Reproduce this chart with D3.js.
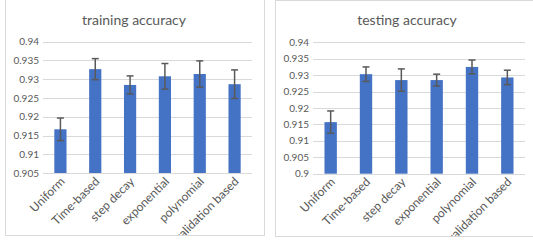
<!DOCTYPE html>
<html><head><meta charset="utf-8">
<script src="https://cdn.jsdelivr.net/npm/d3@7"></script>
<style>body{margin:0;background:#fff;} text{font-family:Lato,"Open Sans",sans-serif;}</style>
</head><body>
<svg id="c" width="533" height="244"></svg>
<script>
const categories = ["Uniform","Time-based","step decay","exponential","polynomial","validation based"];
const trainValues = [0.9167,0.9327,0.9285,0.9308,0.9314,0.9287];
const trainErrors = [0.0030,0.0028,0.0024,0.0034,0.0035,0.0038];
const testValues = [0.9157,0.9303,0.9285,0.9285,0.9325,0.9293];
const testErrors = [0.0034,0.0022,0.0034,0.0018,0.0021,0.0022];
const trainTicks = [0.905,0.91,0.915,0.92,0.925,0.93,0.935,0.94];
const testTicks = [0.9,0.905,0.91,0.915,0.92,0.925,0.93,0.935,0.94];

const svg = d3.select("#c");
const defs = svg.append("defs");

function panel(cfg){
  const g = svg.append("g");
  defs.append("clipPath").attr("id",cfg.id).append("rect")
    .attr("x",cfg.frame[0]).attr("y",cfg.frame[1]).attr("width",cfg.frame[2]).attr("height",cfg.frame[3]);
  g.append("rect").attr("x",cfg.frame[0]+0.5).attr("y",cfg.frame[1]+0.5)
    .attr("width",cfg.frame[2]).attr("height",cfg.frame[3])
    .attr("fill","#fff").attr("stroke","#d9d9d9");
  const inner = g.append("g").attr("clip-path",`url(#${cfg.id})`);
  const x = d3.scaleBand().domain(categories).range([cfg.x0,cfg.x1]).paddingInner(0.65).paddingOuter(0.325);
  const y = d3.scaleLinear().domain([cfg.ticks[0],cfg.ticks[cfg.ticks.length-1]]).range([cfg.yb,cfg.yt]);
  inner.selectAll("line.grid").data(cfg.ticks).join("line")
    .attr("x1",cfg.x0).attr("x2",cfg.x1)
    .attr("y1",d=>Math.round(y(d))+0.5).attr("y2",d=>Math.round(y(d))+0.5)
    .attr("stroke","#d9d9d9").attr("stroke-width",1);
  inner.selectAll("text.yl").data(cfg.ticks).join("text")
    .attr("x",cfg.x0-4).attr("y",d=>y(d)+3.5).attr("text-anchor","end")
    .attr("font-size",10).attr("fill","#595959").text(d=>d3.format("")(+d.toFixed(3)));
  inner.selectAll("rect.bar").data(cfg.values).join("rect")
    .attr("x",(d,i)=>x(categories[i])).attr("width",x.bandwidth())
    .attr("y",d=>y(d)).attr("height",d=>y(cfg.ticks[0])-y(d))
    .attr("fill","#4472c4");
  const eg = inner.selectAll("g.err").data(cfg.values).join("g");
  eg.append("line")
    .attr("x1",(d,i)=>x(categories[i])+x.bandwidth()/2).attr("x2",(d,i)=>x(categories[i])+x.bandwidth()/2)
    .attr("y1",(d,i)=>y(d+cfg.errors[i])).attr("y2",(d,i)=>y(d-cfg.errors[i]))
    .attr("stroke","#595959").attr("stroke-width",1.5);
  [1,-1].forEach(s=>{
    eg.append("line")
      .attr("x1",(d,i)=>x(categories[i])+x.bandwidth()/2-3.5).attr("x2",(d,i)=>x(categories[i])+x.bandwidth()/2+3.5)
      .attr("y1",(d,i)=>y(d+s*cfg.errors[i])).attr("y2",(d,i)=>y(d+s*cfg.errors[i]))
      .attr("stroke","#595959").attr("stroke-width",1.5);
  });
  inner.append("line").attr("x1",cfg.x0).attr("x2",cfg.x1)
    .attr("y1",Math.round(y(cfg.ticks[0]))+0.5).attr("y2",Math.round(y(cfg.ticks[0]))+0.5)
    .attr("stroke","#d9d9d9");
  inner.selectAll("text.xl").data(categories).join("text")
    .attr("transform",d=>`translate(${x(d)+x.bandwidth()/2+5},${y(cfg.ticks[0])+9}) rotate(-45)`)
    .attr("text-anchor","end").attr("font-size",12).attr("fill","#595959").text(d=>d);
  inner.append("text").attr("x",cfg.tx).attr("y",25).attr("text-anchor","middle")
    .attr("font-size",14).attr("fill","#595959").text(cfg.title);
}

panel({id:"cl1",frame:[5,-2,259,237],x0:43,x1:252,yt:41.7,yb:173.3,ticks:trainTicks,values:trainValues,errors:trainErrors,title:"training accuracy",tx:134});
panel({id:"cl2",frame:[275,0,262,236],x0:313,x1:525,yt:42.3,yb:173.7,ticks:testTicks,values:testValues,errors:testErrors,title:"testing accuracy",tx:407});
</script>
</body></html>
